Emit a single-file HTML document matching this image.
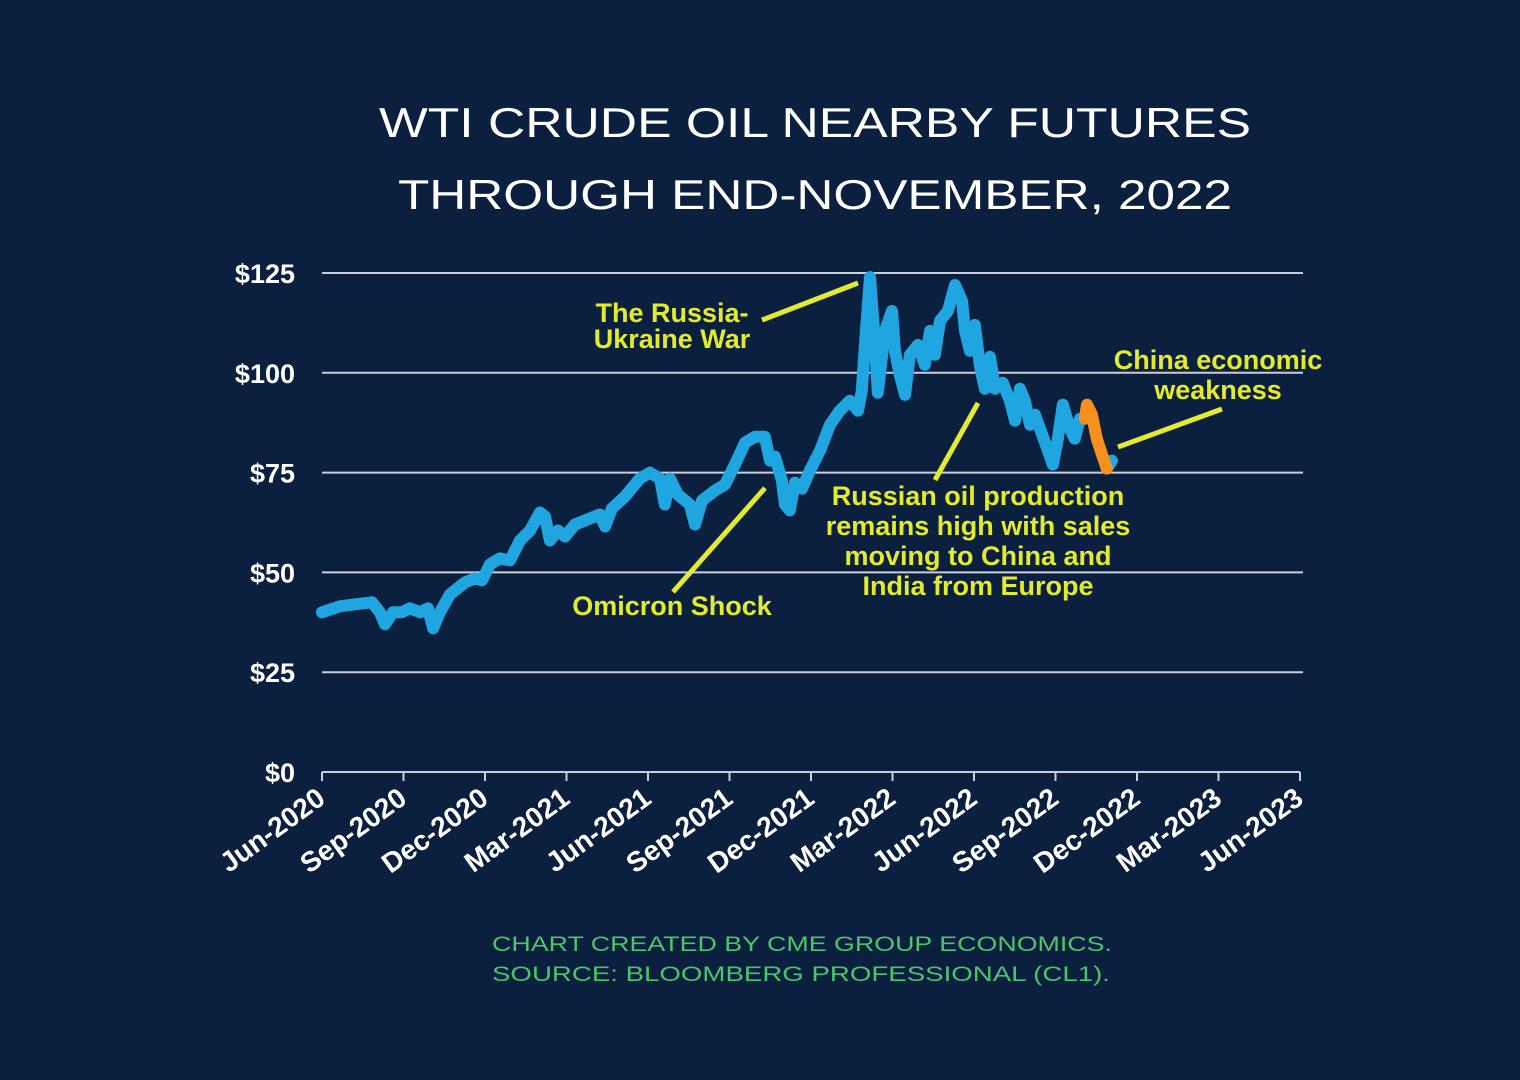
<!DOCTYPE html>
<html><head><meta charset="utf-8"><style>
html,body{margin:0;padding:0;background:#0b1f3f;}
svg{display:block;}
</style></head><body>
<svg id="chart" width="1520" height="1080" viewBox="0 0 1520 1080" xmlns="http://www.w3.org/2000/svg">
<rect x="0" y="0" width="1520" height="1080" fill="#0b1f3f"/>
<text x="815" y="137" text-anchor="middle" fill="#ffffff" font-family="Liberation Sans, sans-serif" font-size="42" textLength="872" lengthAdjust="spacingAndGlyphs">WTI CRUDE OIL NEARBY FUTURES</text>
<text x="815" y="209" text-anchor="middle" fill="#ffffff" font-family="Liberation Sans, sans-serif" font-size="42" textLength="834" lengthAdjust="spacingAndGlyphs">THROUGH END-NOVEMBER, 2022</text>
<g id="grid"></g><g id="yaxis"></g><g id="xaxis"></g><g id="series"></g>
<g font-family="Liberation Sans, sans-serif" font-weight="bold" font-size="27" fill="#e4eb2c" text-anchor="middle">
<text x="672" y="322">The Russia-</text>
<text x="672" y="348">Ukraine War</text>
<line x1="762" y1="320" x2="858" y2="283" stroke="#e4eb2c" stroke-width="5"/>
<text x="672" y="615">Omicron Shock</text>
<line x1="673" y1="592" x2="765" y2="488" stroke="#e4eb2c" stroke-width="5"/>
<text x="978" y="505">Russian oil production</text>
<text x="978" y="535">remains high with sales</text>
<text x="978" y="565">moving to China and</text>
<text x="978" y="595">India from Europe</text>
<line x1="935" y1="480" x2="978" y2="403" stroke="#e4eb2c" stroke-width="5"/>
<text x="1218" y="369">China economic</text>
<text x="1218" y="399">weakness</text>
<line x1="1118" y1="447" x2="1222" y2="409" stroke="#e4eb2c" stroke-width="5"/>
</g>
<g font-family="Liberation Sans, sans-serif" font-size="21" fill="#4cc46a">
<text x="492" y="951" textLength="620" lengthAdjust="spacingAndGlyphs">CHART CREATED BY CME GROUP ECONOMICS.</text>
<text x="492" y="981" textLength="618" lengthAdjust="spacingAndGlyphs">SOURCE:  BLOOMBERG PROFESSIONAL (CL1).</text>
</g>
</svg>
<script>
const yTicks=[0,25,50,75,100,125];
const yTickLabels=["$0","$25","$50","$75","$100","$125"];
const xTickLabels=["Jun-2020","Sep-2020","Dec-2020","Mar-2021","Jun-2021","Sep-2021","Dec-2021","Mar-2022","Jun-2022","Sep-2022","Dec-2022","Mar-2023","Jun-2023"];
// months since Jun-2020
const months=[0,0.66,1.21,1.84,2.13,2.32,2.61,2.94,3.24,3.61,3.90,4.09,4.34,4.71,5.26,5.63,5.89,6.18,6.55,6.92,7.29,7.66,8.02,8.21,8.39,8.69,8.94,9.31,9.86,10.23,10.42,10.67,11.15,11.70,12.07,12.44,12.62,12.81,13.10,13.54,13.73,13.99,14.46,14.83,15.20,15.57,15.94,16.30,16.49,16.67,16.93,17.04,17.22,17.41,17.67,17.96,18.33,18.70,19.06,19.43,19.73,19.87,20.02,20.17,20.35,20.46,20.72,20.98,21.09,21.27,21.46,21.64,21.94,22.19,22.38,22.56,22.75,23.04,23.30,23.56,23.67,23.85,24.03,24.22,24.40,24.59,24.77,25.06,25.32,25.51,25.69,25.87,26.06,26.24,26.43,26.72,26.90,27.09,27.27,27.53,27.71,27.90,28.08];
const prices=[40,41.5,42,42.5,40,37,40,40,41,40,41,36,40,44.5,47.5,48.5,48,52,53.5,53,58,60.5,65,64,58,60.5,59,62,63.5,64.5,61.5,66,69,73.5,75,73.5,67,73.5,69.5,67,62,68,70.5,72,77,82.5,84,84,78,79,73,67,65.5,72.5,71,75.5,80.5,87,90.5,93,90.5,95.5,110.5,124,108,95,110.5,115.5,105.5,99.5,94.5,104.5,107,102,110.5,104.5,113,115.5,122,118,110.5,105.5,112,101.5,96,104,96,97.5,93,88,96,93,87,89.5,86,80.5,77,83.5,92,86,83.5,88.5,88.5];
const recentMonths=[28.08,28.16,28.34,28.52,28.71,28.89];
const recentPrices=[88.5,92,89.5,83.5,79.5,76];
const tailMonths=[28.89,29.08];
const tailPrices=[76,78];

const X0=322,X1=1300,Y0=772,Y1=273,NS="http://www.w3.org/2000/svg";
const xs=m=>X0+m*(X1-X0)/36;
const ys=v=>Y0-v*(Y0-Y1)/125;
function mk(tag,attrs,parent){const e=document.createElementNS(NS,tag);for(const k in attrs)e.setAttribute(k,attrs[k]);parent.appendChild(e);return e;}
const grid=document.getElementById('grid'),ya=document.getElementById('yaxis'),xa=document.getElementById('xaxis'),se=document.getElementById('series');
yTicks.forEach((v,i)=>{
  if(v>0){const g=mk('line',{x1:X0,x2:1303,y1:ys(v),y2:ys(v),stroke:'#c9ced9','stroke-width':2},grid);
  
  }
  const t=mk('text',{x:295,y:ys(v)+10,'text-anchor':'end',fill:'#fff','font-family':'Liberation Sans, sans-serif','font-weight':'bold','font-size':27},ya);
  t.textContent=yTickLabels[i];
  
  
});
const ax=mk('line',{x1:X0,x2:X1,y1:Y0,y2:Y0,stroke:'#c9ced9','stroke-width':2},xa);


xTickLabels.forEach((l,i)=>{
  const x=xs(i*3);
  const tk=mk('line',{x1:x,x2:x,y1:Y0,y2:Y0+9,stroke:'#c9ced9','stroke-width':2},xa);
  
  
  const t=mk('text',{x:x+5,y:Y0+30,'text-anchor':'end',fill:'#fff','font-family':'Liberation Sans, sans-serif','font-weight':'bold','font-size':28,transform:`rotate(-36 ${x+5} ${Y0+30})`},xa);
  t.textContent=l;
  
  
});
function path(ms,vs){return ms.map((m,i)=>(i?'L':'M')+xs(m).toFixed(1)+','+ys(vs[i]).toFixed(1)).join(' ');}
const p1=mk('path',{d:path(months,prices),fill:'none',stroke:'#1fa6e0','stroke-width':12,'stroke-linejoin':'round','stroke-linecap':'round'},se);


const p3=mk('path',{d:path(tailMonths,tailPrices),fill:'none',stroke:'#1fa6e0','stroke-width':12,'stroke-linejoin':'round','stroke-linecap':'round'},se);


const p2=mk('path',{d:path(recentMonths,recentPrices),fill:'none',stroke:'#f7901e','stroke-width':12,'stroke-linejoin':'round','stroke-linecap':'round'},se);


</script>
</body></html>
